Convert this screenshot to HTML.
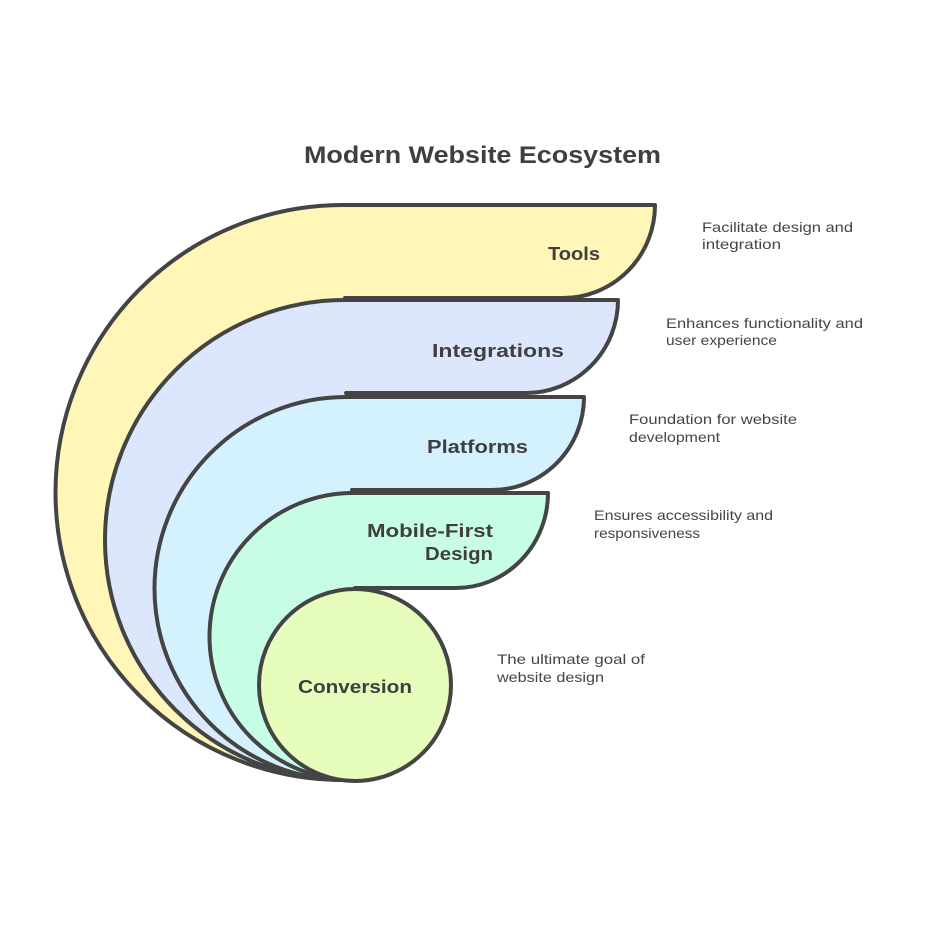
<!DOCTYPE html>
<html>
<head>
<meta charset="utf-8">
<style>
  html, body { margin: 0; padding: 0; background: #ffffff; }
  svg { display: block; }
  .lbl { font-family: "Liberation Sans", sans-serif; font-weight: bold; fill: #3f3f3f; }
  .desc { font-family: "Liberation Sans", sans-serif; font-size: 14px; fill: #454545; }
</style>
</head>
<body>
<svg width="926" height="926" viewBox="0 0 926 926" xmlns="http://www.w3.org/2000/svg">
  <rect width="926" height="926" fill="#ffffff"/>

  <!-- Title -->
  <text class="lbl" x="304" y="163" font-size="24" textLength="357" lengthAdjust="spacingAndGlyphs">Modern Website Ecosystem</text>

  <g stroke="#444444" stroke-width="4" stroke-linejoin="round" stroke-linecap="round">
    <!-- Tools -->
    <path d="M343,780 A287.5,287.5 0 0 1 343,205 L655,205 A92,93 0 0 1 563,298 L343,298 Z" fill="#fff6b8" stroke="none"/>
    <path d="M343,780 A287.5,287.5 0 0 1 343,205 L655,205 A92,93 0 0 1 563,298 L345,298" fill="none"/>

    <!-- Integrations -->
    <path d="M345,780 A240,240 0 0 1 345,300 L618,300 A92,93 0 0 1 526,393 L346,393 Z" fill="#dce7fd" stroke="none"/>
    <path d="M345,780 A240,240 0 0 1 345,300 L618,300 A92,93 0 0 1 526,393 L346,393" fill="none"/>

    <!-- Platforms -->
    <path d="M346,780 A191.5,191.5 0 0 1 346,397 L584,397 A92,93 0 0 1 492,490 L352,490 Z" fill="#d3f2fd" stroke="none"/>
    <path d="M346,780 A191.5,191.5 0 0 1 346,397 L584,397 A92,93 0 0 1 492,490 L352,490" fill="none"/>

    <!-- Mobile-First -->
    <path d="M353,780 A143.5,143.5 0 0 1 353,493 L548,493 A92,95 0 0 1 456,588 L355,588 Z" fill="#c8fde5" stroke="none"/>
    <path d="M353,780 A143.5,143.5 0 0 1 353,493 L548,493 A92,95 0 0 1 456,588 L355,588" fill="none"/>

    <!-- Conversion -->
    <circle cx="355" cy="685" r="96" fill="#e6fdbb"/>
  </g>

  <!-- Labels -->
  <text class="lbl" x="548" y="260" font-size="18" textLength="52" lengthAdjust="spacingAndGlyphs">Tools</text>
  <text class="lbl" x="432" y="357" font-size="18" textLength="132" lengthAdjust="spacingAndGlyphs">Integrations</text>
  <text class="lbl" x="427" y="453" font-size="18" textLength="101" lengthAdjust="spacingAndGlyphs">Platforms</text>
  <text class="lbl" x="367" y="537" font-size="18" textLength="126" lengthAdjust="spacingAndGlyphs">Mobile-First</text>
  <text class="lbl" x="425" y="560" font-size="18" textLength="68" lengthAdjust="spacingAndGlyphs">Design</text>
  <text class="lbl" x="298" y="693" font-size="18" textLength="114" lengthAdjust="spacingAndGlyphs">Conversion</text>

  <!-- Descriptions -->
  <text class="desc" x="702" y="232" textLength="151" lengthAdjust="spacingAndGlyphs">Facilitate design and</text>
  <text class="desc" x="702" y="249" textLength="79" lengthAdjust="spacingAndGlyphs">integration</text>

  <text class="desc" x="666" y="328" textLength="197" lengthAdjust="spacingAndGlyphs">Enhances functionality and</text>
  <text class="desc" x="666" y="345" textLength="111" lengthAdjust="spacingAndGlyphs">user experience</text>

  <text class="desc" x="629" y="424" textLength="168" lengthAdjust="spacingAndGlyphs">Foundation for website</text>
  <text class="desc" x="629" y="442" textLength="91" lengthAdjust="spacingAndGlyphs">development</text>

  <text class="desc" x="594" y="520" textLength="179" lengthAdjust="spacingAndGlyphs">Ensures accessibility and</text>
  <text class="desc" x="594" y="538" textLength="106" lengthAdjust="spacingAndGlyphs">responsiveness</text>

  <text class="desc" x="497" y="664" textLength="148" lengthAdjust="spacingAndGlyphs">The ultimate goal of</text>
  <text class="desc" x="497" y="682" textLength="107" lengthAdjust="spacingAndGlyphs">website design</text>
</svg>
</body>
</html>
